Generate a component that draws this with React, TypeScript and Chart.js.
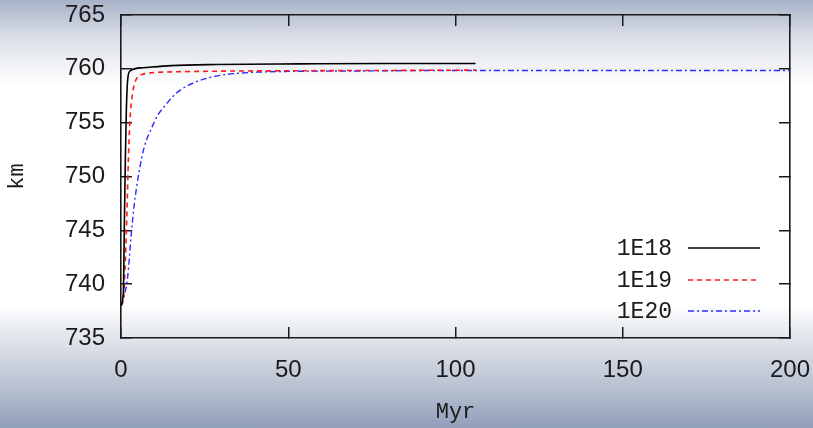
import React, { useEffect, useRef } from "react";
import { Chart, registerables } from "chart.js";

Chart.register(...registerables);

// ---- data ----
const seriesNames = ["1E18", "1E19", "1E20"];

const x1E18 = [0, 0.7, 1.0, 1.3, 1.6, 2.0, 2.7, 6.5, 15, 28.4, 53.5, 80, 106];
const y1E18 = [738, 739.2, 745.4, 751.6, 756.2, 759.0, 759.8, 760.1, 760.3, 760.4, 760.46, 760.5, 760.5];

const x1E19 = [0, 0.7, 1.3, 1.8, 2.2, 2.7, 3.5, 4.5, 6.5, 13.5, 28.4, 50, 80, 106];
const y1E19 = [738, 738.6, 742.3, 746.9, 751.6, 755.3, 757.8, 759.0, 759.5, 759.7, 759.78, 759.82, 759.85, 759.88];

const x1E20 = [0, 1, 2, 3, 4, 5.5, 7, 9, 11, 13.5, 16.4, 19.4, 23.4, 28, 35.6, 47.5, 70, 100, 150, 200];
const y1E20 = [738, 739, 740.7, 744.4, 747.5, 750.6, 752.8, 754.4, 755.7, 756.7, 757.7, 758.35, 758.9, 759.3, 759.6, 759.75, 759.8, 759.85, 759.85, 759.85];

const xTickValues = [0, 50, 100, 150, 200];
const yTickValues = [735, 740, 745, 750, 755, 760, 765];

const xTitle = "Myr";
const yTitle = "km";

const toPoints = (xs: number[], ys: number[]) => xs.map((x, i) => ({ x, y: ys[i] }));

const zeroPad = (s: any) => {
  s.paddingTop = 0;
  s.paddingBottom = 0;
  s.paddingLeft = 0;
  s.paddingRight = 0;
};

const legendPlugin = {
  id: "gnuLegend",
  afterDatasetsDraw(chart: any) {
    const ctx = chart.ctx;
    const rows = [248, 280, 311];
    ctx.save();
    ctx.font = "23px 'Liberation Mono', monospace";
    ctx.textAlign = "right";
    ctx.textBaseline = "middle";
    chart.data.datasets.forEach((ds: any, i: number) => {
      const y = rows[i];
      ctx.fillStyle = "#1a1a1a";
      ctx.fillText(ds.label, 672, y + 1);
      ctx.strokeStyle = ds.borderColor;
      ctx.lineWidth = ds.borderWidth;
      ctx.setLineDash(ds.borderDash || []);
      ctx.beginPath();
      ctx.moveTo(688, y);
      ctx.lineTo(760, y);
      ctx.stroke();
    });
    ctx.restore();
  },
};

export default function App() {
  const ref = useRef<HTMLCanvasElement | null>(null);

  useEffect(() => {
    if (!ref.current) return;
    const tickFont = { family: "'Liberation Sans', Arial, sans-serif", size: 24 };
    const titleFont = { family: "'Liberation Mono', monospace", size: 22 };
    const gridCommon = {
      drawOnChartArea: false,
      drawTicks: true,
      tickLength: -11,
      color: "#1a1a1a",
      lineWidth: 1.5,
    };
    const borderCommon = { display: true, color: "#1a1a1a", width: 1.6 };

    const chart = new Chart(ref.current, {
      type: "line",
      data: {
        datasets: [
          {
            label: seriesNames[0],
            data: toPoints(x1E18, y1E18),
            borderColor: "#000000",
            borderWidth: 1.6,
            pointRadius: 0,
            cubicInterpolationMode: "monotone",
          },
          {
            label: seriesNames[1],
            data: toPoints(x1E19, y1E19),
            borderColor: "#ff1a1a",
            borderWidth: 1.6,
            borderDash: [5, 4],
            pointRadius: 0,
            cubicInterpolationMode: "monotone",
          },
          {
            label: seriesNames[2],
            data: toPoints(x1E20, y1E20),
            borderColor: "#2a2aff",
            borderWidth: 1.4,
            borderDash: [6, 3, 2, 3],
            pointRadius: 0,
            cubicInterpolationMode: "monotone",
          },
        ],
      },
      options: {
        responsive: false,
        maintainAspectRatio: false,
        devicePixelRatio: 1,
        animation: false,
        layout: { padding: { left: 0, right: 22, top: 14, bottom: 0 } },
        plugins: { legend: { display: false }, tooltip: { enabled: false } },
        scales: {
          x: {
            type: "linear",
            position: "bottom",
            min: 0,
            max: 200,
            afterBuildTicks: (s: any) => { s.ticks = xTickValues.map((v) => ({ value: v })); },
            ticks: { font: tickFont, color: "#1a1a1a", padding: 29, maxRotation: 0 },
            grid: gridCommon,
            border: borderCommon,
            title: { display: true, text: xTitle, font: titleFont, color: "#1a1a1a", padding: { top: 0, bottom: 3 } },
            afterFit: (s: any) => { s.height = 90; zeroPad(s); },
          },
          x2: {
            type: "linear",
            position: "top",
            min: 0,
            max: 200,
            afterBuildTicks: (s: any) => { s.ticks = xTickValues.map((v) => ({ value: v })); },
            ticks: { display: false },
            grid: gridCommon,
            border: borderCommon,
            afterFit: (s: any) => { s.height = 1; zeroPad(s); },
          },
          y: {
            type: "linear",
            position: "left",
            min: 735,
            max: 765,
            afterBuildTicks: (s: any) => { s.ticks = yTickValues.map((v) => ({ value: v })); },
            ticks: { font: tickFont, color: "#1a1a1a", padding: 27 },
            grid: gridCommon,
            border: borderCommon,
            title: { display: true, text: yTitle, font: titleFont, color: "#1a1a1a", padding: { top: 4, bottom: 0 } },
            afterFit: (s: any) => { s.width = 121; zeroPad(s); },
          },
          y2: {
            type: "linear",
            position: "right",
            min: 735,
            max: 765,
            afterBuildTicks: (s: any) => { s.ticks = yTickValues.map((v) => ({ value: v })); },
            ticks: { display: false },
            grid: gridCommon,
            border: borderCommon,
            afterFit: (s: any) => { s.width = 1; zeroPad(s); },
          },
        },
      } as any,
      plugins: [legendPlugin],
    });
    return () => chart.destroy();
  }, []);

  return (
    <div
      style={{
        position: "absolute",
        left: 0,
        top: 0,
        width: 813,
        height: 428,
        background:
          "linear-gradient(to bottom, #a8b2c8 0px, #dde1e9 40px, #ffffff 85px, #ffffff 305px, #e8ebf0 330px, #b6bfd0 390px, #919eb9 428px)",
      }}
    >
      <canvas ref={ref} width={813} height={428} style={{ display: "block" }} />
    </div>
  );
}
